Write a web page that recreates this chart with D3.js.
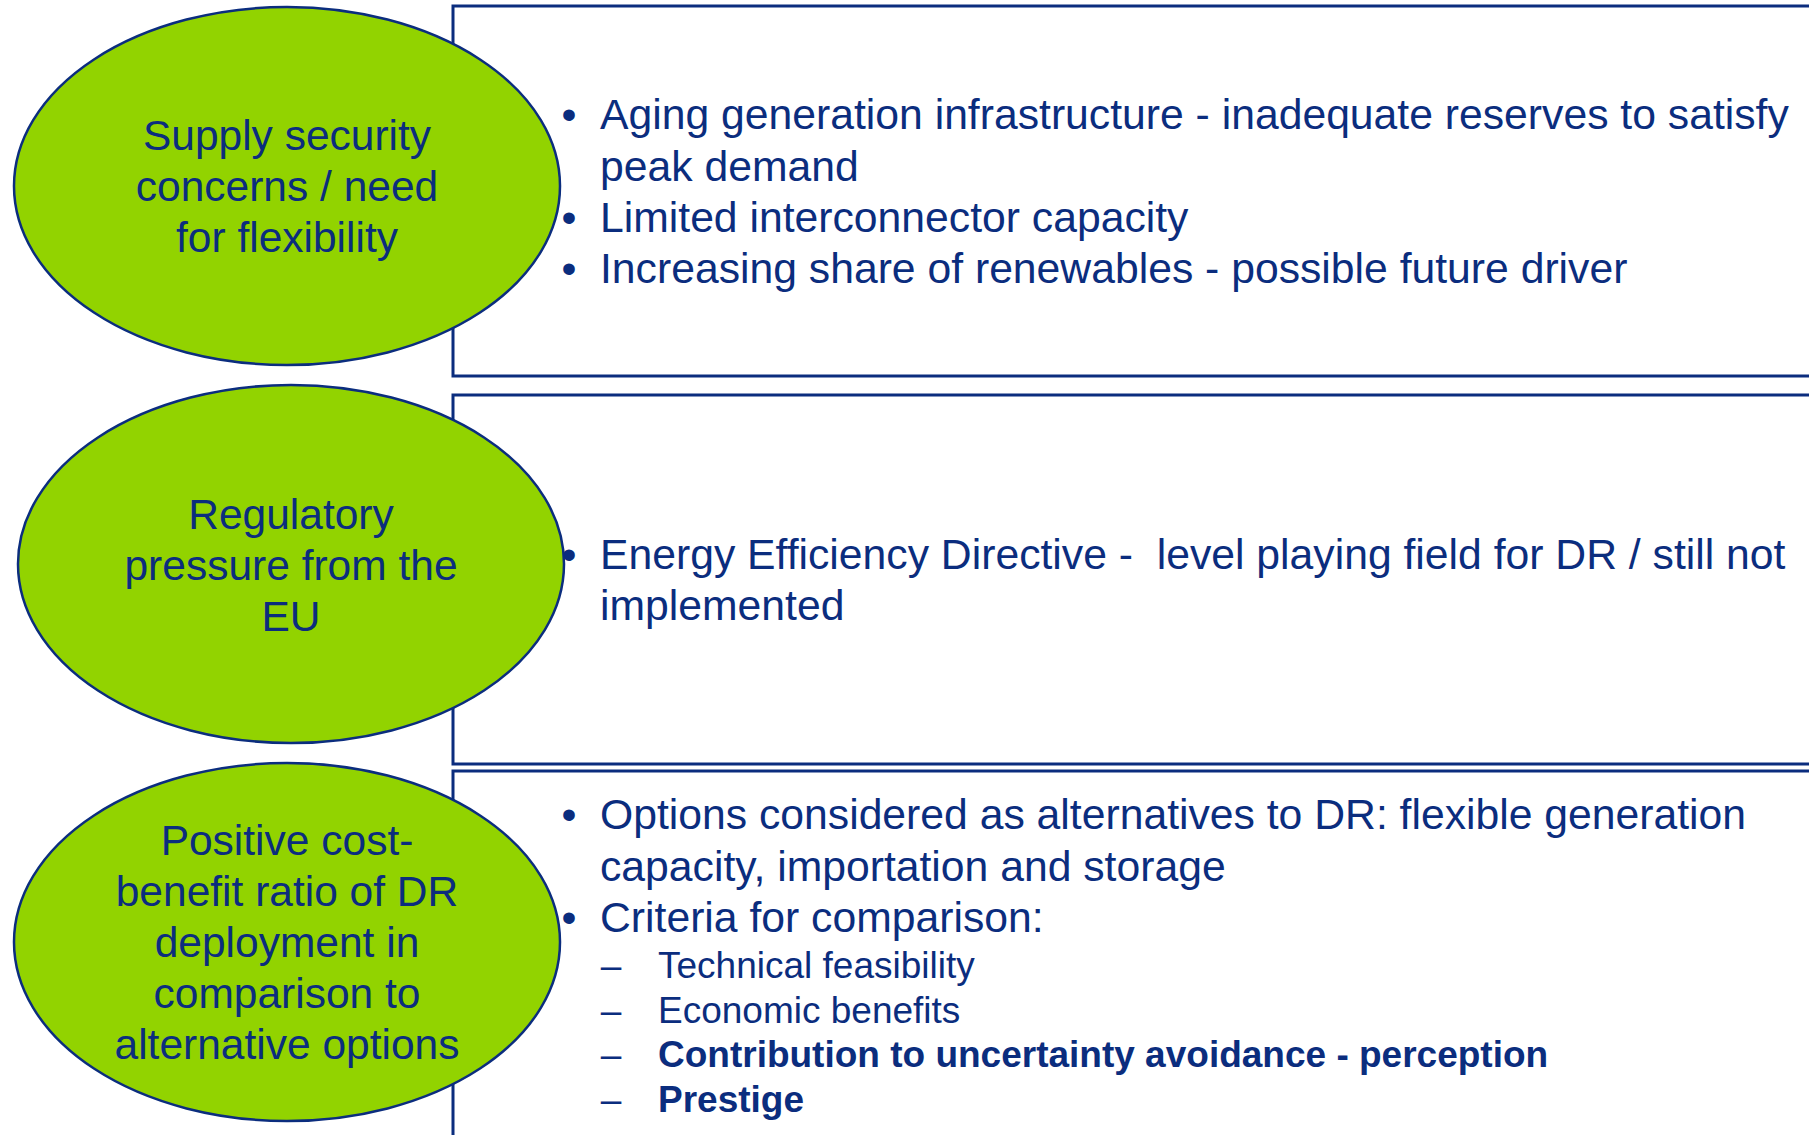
<!DOCTYPE html>
<html>
<head>
<meta charset="utf-8">
<script src="https://cdn.jsdelivr.net/npm/d3@7"></script>
<style>
  html, body { margin: 0; padding: 0; background: #ffffff; }
  svg { display: block; }
  text { font-family: "Liberation Sans", Arial, sans-serif; white-space: pre; }
</style>
</head>
<body>
<svg id="chart" width="1809" height="1135"></svg>
<script>
// ---- Content ----
const drivers = [
  ["Supply security", "concerns / need", "for flexibility"],
  ["Regulatory", "pressure from the", "EU"],
  ["Positive cost-", "benefit ratio of DR", "deployment in", "comparison to", "alternative options"]
];

const box1Lines = [
  { mark: "•", text: "Aging generation infrastructure - inadequate reserves to satisfy" },
  { mark: "",  text: "peak demand" },
  { mark: "•", text: "Limited interconnector capacity" },
  { mark: "•", text: "Increasing share of renewables - possible future driver" }
];

const box2Lines = [
  { mark: "•", text: "Energy Efficiency Directive -  level playing field for DR / still not" },
  { mark: "",  text: "implemented" }
];

const box3Lines = [
  { mark: "•", text: "Options considered as alternatives to DR: flexible generation" },
  { mark: "",  text: "capacity, importation and storage" },
  { mark: "•", text: "Criteria for comparison:" }
];

const box3SubItems = [
  { text: "Technical feasibility", bold: false },
  { text: "Economic benefits", bold: false },
  { text: "Contribution to uncertainty avoidance - perception", bold: true },
  { text: "Prestige", bold: true }
];

// ---- Layout ----
const navy = "#0b2d7e";
const green = "#92d300";
const svg = d3.select("#chart");

const rows = [
  { ellipse: { cx: 287, cy: 186 }, box: { y: 6, h: 370 }, textY: [129, 180.5, 232, 283], labelY: 150, lines: box1Lines },
  { ellipse: { cx: 291, cy: 564 }, box: { y: 395, h: 369 }, textY: [568.5, 620], labelY: 529, lines: box2Lines },
  { ellipse: { cx: 287, cy: 942 }, box: { y: 771, h: 420 }, textY: [829, 880.5, 932], labelY: 855, lines: box3Lines }
];

const boxX = 453, boxW = 1500;
const rx = 273, ry = 179;
const lineH = 51;
const bulletX = 569, textX = 600;

// boxes
svg.append("g").selectAll("rect").data(rows).join("rect")
  .attr("x", boxX).attr("y", d => d.box.y)
  .attr("width", boxW).attr("height", d => d.box.h)
  .attr("fill", "#ffffff").attr("stroke", navy).attr("stroke-width", 3);

// ellipses
svg.append("g").selectAll("ellipse").data(rows).join("ellipse")
  .attr("cx", d => d.ellipse.cx).attr("cy", d => d.ellipse.cy)
  .attr("rx", rx).attr("ry", ry)
  .attr("fill", green).attr("stroke", navy).attr("stroke-width", 2.5);

// ellipse labels
rows.forEach((r, i) => {
  const g = svg.append("g");
  g.selectAll("text").data(drivers[i]).join("text")
    .attr("x", r.ellipse.cx)
    .attr("y", (d, j) => r.labelY + j * lineH)
    .attr("text-anchor", "middle")
    .attr("font-size", 42.5)
    .attr("fill", navy)
    .text(d => d);
});

// box text lines
rows.forEach(r => {
  const g = svg.append("g");
  const sel = g.selectAll("g.line").data(r.lines).join("g").attr("class", "line");
  sel.append("text")
    .attr("x", bulletX).attr("y", (d, j) => r.textY[j])
    .attr("text-anchor", "middle")
    .attr("font-size", 42.7).attr("fill", navy)
    .text(d => d.mark);
  sel.append("text")
    .attr("x", textX).attr("y", (d, j) => r.textY[j])
    .attr("font-size", 42.7).attr("fill", navy)
    .text(d => d.text);
});

// sub items in box 3
const subY = [978, 1023, 1067, 1112];
const subG = svg.append("g");
const subSel = subG.selectAll("g.sub").data(box3SubItems).join("g").attr("class", "sub");
subSel.append("text")
  .attr("x", 611).attr("y", (d, j) => subY[j])
  .attr("text-anchor", "middle")
  .attr("font-size", 37).attr("fill", navy)
  .text("–");
subSel.append("text")
  .attr("x", 658).attr("y", (d, j) => subY[j])
  .attr("font-size", 37).attr("fill", navy)
  .attr("font-weight", d => d.bold ? "bold" : "normal")
  .attr("textLength", null)
  .text(d => d.text);
</script>
</body>
</html>
